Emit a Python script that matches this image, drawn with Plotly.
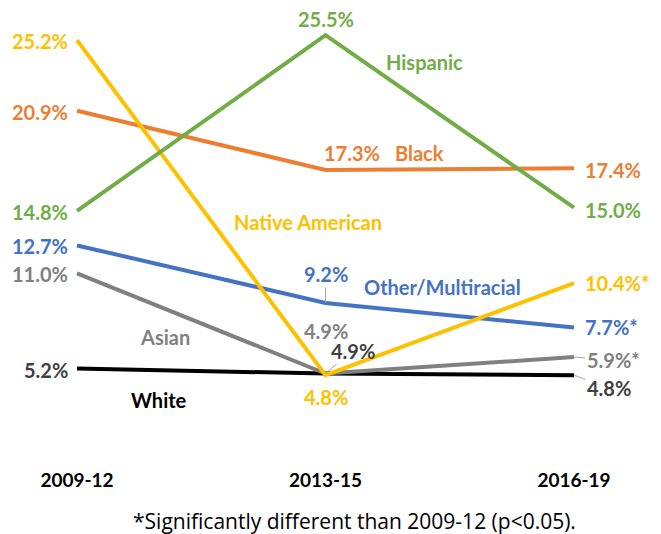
import plotly.graph_objects as go

# ---------------- data ----------------
periods = ["2009-12", "2013-15", "2016-19"]
series_names = ["White", "Asian", "Other/Multiracial", "Black", "Native American", "Hispanic"]
white = [5.2, 4.9, 4.8]
asian = [11.0, 4.9, 5.9]
other = [12.7, 9.2, 7.7]
black = [20.9, 17.3, 17.4]
native = [25.2, 4.8, 10.4]
hispanic = [14.8, 25.5, 15.0]
# significance vs 2009-12
white_sig = [False, False, False]
asian_sig = [False, False, True]
other_sig = [False, False, True]
black_sig = [False, False, False]
native_sig = [False, False, True]
hispanic_sig = [False, False, False]
footnote = "*Significantly different than 2009-12 (p<0.05)."

values = [white, asian, other, black, native, hispanic]
sigs = [white_sig, asian_sig, other_sig, black_sig, native_sig, hispanic_sig]

# ---------------- styles ----------------
FONT = "Lato, 'Open Sans', sans-serif"
NOTE_FONT = "'Open Sans', Lato, sans-serif"
line_colors = {"White": "#000000", "Asian": "#808080", "Other/Multiracial": "#4472C4",
               "Black": "#ED7D31", "Native American": "#FFC000", "Hispanic": "#70AD47"}
label_colors = {"White": "#404040", "Asian": "#808080", "Other/Multiracial": "#4472C4",
                "Black": "#ED7D31", "Native American": "#FFC000", "Hispanic": "#70AD47"}
name_colors = dict(label_colors, White="#000000")
# series name label position (x in category index units, y in value units)
name_pos = {"Hispanic": (1.40, 23.85), "Black": (1.38, 18.3), "Native American": (0.93, 14.15),
            "Other/Multiracial": (1.47, 10.15), "Asian": (0.355, 7.1), "White": (0.33, 3.3)}
# middle label offsets (dx, dy in px, leader line?)
mid_off = {"White": (27, -23, True), "Asian": (0, -43, False), "Other/Multiracial": (0, -29, True),
           "Black": (26, -17, False), "Native American": (0, 22, False), "Hispanic": (0, -16, False)}
# right label offsets
right_off = {"White": (35, 13, True), "Asian": (39, 3, True), "Other/Multiracial": (9, -1, False),
             "Black": (9, 2, False), "Native American": (9, 0, False), "Hispanic": (9, 2, False)}

fig = go.Figure()
annotations = []
x_idx = list(range(len(periods)))

for name, vals, sg in zip(series_names, values, sigs):
    fig.add_trace(go.Scatter(x=x_idx, y=vals, mode="lines", name=name,
                             line=dict(color=line_colors[name], width=4),
                             hoverinfo="skip", showlegend=False))
    texts = [f"{v:.1f}%" + ("*" if s else "") for v, s in zip(vals, sg)]
    lf = dict(family=FONT, size=20, color=label_colors[name], weight="bold")
    # left
    annotations.append(dict(x=0, y=vals[0], text=texts[0], showarrow=False, xanchor="right",
                            yanchor="middle", xshift=-7, yshift=-1, font=lf))
    # middle
    dx, dy, leader = mid_off[name]
    if leader:
        annotations.append(dict(x=1, y=vals[1], text=texts[1], showarrow=True, arrowhead=0,
                                arrowwidth=1, arrowcolor="#A6A6A6", ax=dx, ay=dy, standoff=0,
                                font=lf))
    else:
        annotations.append(dict(x=1, y=vals[1], text=texts[1], showarrow=False, xshift=dx,
                                yshift=-dy, font=lf))
    # right
    dx, dy, leader = right_off[name]
    if leader:
        annotations.append(dict(x=2, y=vals[2], text=texts[2], showarrow=True, arrowhead=0,
                                arrowwidth=1, arrowcolor="#A6A6A6", ax=dx, ay=dy, standoff=0,
                                font=lf))
    else:
        annotations.append(dict(x=2, y=vals[2], text=texts[2], showarrow=False, xanchor="left",
                                xshift=dx, yshift=-dy, font=lf))
    # series name
    nx, ny = name_pos[name]
    annotations.append(dict(x=nx, y=ny, text=name, showarrow=False,
                            font=dict(family=FONT, size=20, color=name_colors[name], weight="bold")))

annotations.append(dict(xref="paper", yref="paper", x=0.531, y=-0.1575, text=footnote,
                        showarrow=False, xanchor="center", yanchor="middle",
                        font=dict(family=NOTE_FONT, size=21, color="#000000")))

# the page body adds an 8px offset; the figure is sized to fill the rest of the window
fig.update_layout(
    width=653, height=526,
    margin=dict(l=0, r=0, t=19, b=80.2),
    paper_bgcolor="white", plot_bgcolor="white",
    annotations=annotations,
    xaxis=dict(range=[-0.2777, 2.3501], tickvals=x_idx, ticktext=periods,
               showgrid=False, zeroline=False, showline=False, ticks="",
               ticklabelstandoff=13,
               tickfont=dict(family=FONT, size=19, color="#000000", weight="bold")),
    yaxis=dict(range=[0, 26], visible=False),
    font=dict(family=FONT),
)

fig.write_html("out.html")
